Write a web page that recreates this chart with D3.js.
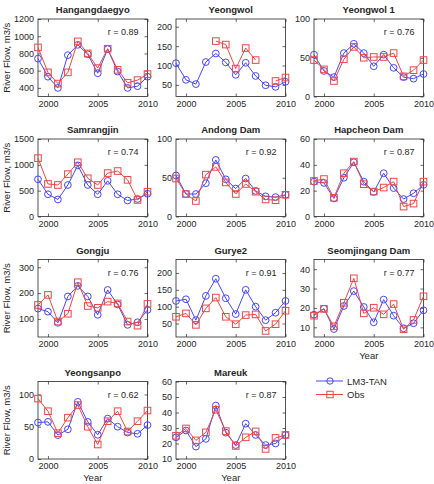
<!DOCTYPE html>
<html lang="en">
<head>
<meta charset="UTF-8">
<title>River flow, LM3-TAN vs Obs</title>
<script src="https://cdn.jsdelivr.net/npm/d3@7"></script>
<style>
  body { margin: 0; background: #fff; }
  svg text { font-family: "Liberation Sans", Arial, sans-serif; fill: #262626; }
</style>
</head>
<body>
<div id="box"></div>
<script>
// years on the x axis
var years = [1999, 2000, 2001, 2002, 2003, 2004, 2005, 2006, 2007, 2008, 2009, 2010];
var xTicks = [2000, 2005, 2010];

// station names (panel titles)
var stations = ["Hangangdaegyo", "Yeongwol", "Yeongwol 1", "Samrangjin", "Andong Dam", "Hapcheon Dam",
                "Gongju", "Gurye2", "Seomjingang Dam", "Yeongsanpo", "Mareuk"];
var rValues = ["0.89", null, "0.76", "0.74", "0.92", "0.87", "0.76", "0.91", "0.77", "0.62", "0.87"];

// LM3-TAN (model) and Obs series, one pair per station
var lmHangangdaegyo = [740, 530, 400, 780, 900, 790, 570, 850, 590, 400, 420, 530];
var obsHangangdaegyo = [870, 580, 450, 580, 940, 800, 630, 855, 610, 460, 490, 560];
var lmYeongwol = [106, 63, 52, 109, 131, 108, 76, 107, 73, 49, 45, 58];
var obsYeongwol = [null, null, null, null, 163, 154, 92, 145, 114, null, 60, 69];
var lmYeongwol1 = [54, 33, 25, 56, 68, 56, 39, 54, 37, 25, 23, 29];
var obsYeongwol1 = [47, 35, 20, 48, 64, 50, 51, 51, 56, 26, 34, 47];
var lmSamrangjin = [720, 430, 330, 610, 990, 610, 430, 690, 430, 310, 340, 440];
var obsSamrangjin = [1130, 630, 610, 820, 1050, 740, 610, 840, 880, 710, 320, 480];
var lmAndong = [53, 29, 29, 43, 73, 48, 36, 49, 33, 26, 25, 28];
var obsAndong = [49, 29, 20, 54, 64, 44, 29, 42, 32, 22, 21, 28];
var lmHapcheon = [27, 26, 14, 30, 42, 27, 19, 33.5, 22, 13.5, 18, 24.5];
var obsHapcheon = [27.5, 29, 14.5, 33.5, 42.5, 25, 19.3, 22.4, 27, 7.7, 10, 27];
var lmGongju = [140, 128, 85, 187, 228, 187, 116, 212, 156, 77, 87, 135];
var obsGongju = [154, 193, 90, 120, 242, 150, 143, 167, 160, 90, 74, 158];
var lmGurye2 = [117, 122, 60, 132, 183, 125, 78, 150, 100, 60, 82, 117];
var obsGurye2 = [70, 80, 46, 95, 127, 70, 48, 75, 77, 28, 48, 88];
var lmSeomjingang = [16.5, 19.6, 9.1, 21, 28.7, 20.5, 12.6, 24.3, 16, 9.5, 12.1, 18.8];
var obsSeomjingang = [16, 19.5, 10.5, 22.7, 35.3, 17.2, 20.1, 16.7, 22, 9, 13.8, 26];
var lmYeongsanpo = [56.5, 57.5, 37, 46, 88.5, 57.5, 37.5, 62.5, 50, 41, 39, 52.5];
var obsYeongsanpo = [93.5, 74, 40, 64, 83.5, 50, 22.5, 58.5, 74, 42.5, 58.5, 75];
var lmMareuk = [24, 28.4, 18, 23, 44.5, 27, 19, 32.8, 25.5, 19, 20, 25.5];
var obsMareuk = [25, 29.7, 22, 27.2, 41.8, 28, 18.4, 24, 27.8, 16.5, 23.6, 25.5];

// y axis limits and tick labels
var yDomains = [[300, 1200], [20, 220], [0, 100], [0, 1500], [0, 100], [0, 60],
                [30, 330], [10, 240], [5, 45], [0, 120], [10, 60]];
var yTicks = [[400, 600, 800, 1000, 1200], [50, 100, 150, 200], [0, 50, 100], [0, 500, 1000, 1500],
              [0, 50, 100], [0, 20, 40, 60], [100, 200, 300], [50, 100, 150, 200],
              [10, 20, 30, 40], [0, 50, 100], [10, 20, 30, 40, 50, 60]];

var lmSeries = [lmHangangdaegyo, lmYeongwol, lmYeongwol1, lmSamrangjin, lmAndong, lmHapcheon,
                lmGongju, lmGurye2, lmSeomjingang, lmYeongsanpo, lmMareuk];
var obsSeries = [obsHangangdaegyo, obsYeongwol, obsYeongwol1, obsSamrangjin, obsAndong, obsHapcheon,
                 obsGongju, obsGurye2, obsSeomjingang, obsYeongsanpo, obsMareuk];

var width = 434, height = 484;
var colLeft = [38, 176, 314];
var rowTop = [19, 139, 259.5, 381.5];
var pw = 109.5, ph = 77.5;
var blue = "#4646ff", red = "#f04646", ink = "#262626";

var svg = d3.select("#box").append("svg")
    .attr("width", width)
    .attr("height", height);

stations.forEach(function(name, i) {
    var col = i % 3, row = Math.floor(i / 3);
    var g = svg.append("g").attr("transform", "translate(" + colLeft[col] + "," + rowTop[row] + ")");

    var x = d3.scaleLinear().domain([1999, 2010]).range([0, pw]);
    var y = d3.scaleLinear().domain(yDomains[i]).range([ph, 0]);

    // axes, ticks inside like matlab
    var xa = g.append("g").attr("transform", "translate(0," + ph + ")")
        .call(d3.axisBottom(x).tickValues(xTicks).tickFormat(d3.format("d"))
            .tickSizeInner(-3).tickSizeOuter(0).tickPadding(4));
    var xt = g.append("g")
        .call(d3.axisTop(x).tickValues(xTicks).tickFormat("").tickSizeInner(-3).tickSizeOuter(0));
    var ya = g.append("g")
        .call(d3.axisLeft(y).tickValues(yTicks[i]).tickFormat(d3.format("d"))
            .tickSizeInner(-3).tickSizeOuter(0).tickPadding(4));
    var yr = g.append("g").attr("transform", "translate(" + pw + ",0)")
        .call(d3.axisRight(y).tickValues(yTicks[i]).tickFormat("").tickSizeInner(-3).tickSizeOuter(0));
    [xa, xt, ya, yr].forEach(function(a) {
        a.select(".domain").remove();
        a.selectAll("line").attr("stroke", ink).attr("stroke-width", 0.7);
        a.selectAll("text").attr("font-size", 9).attr("fill", ink)
            .attr("font-family", "'Liberation Sans', Arial, sans-serif");
    });

    g.append("rect")
        .attr("width", pw).attr("height", ph)
        .attr("fill", "none").attr("stroke", ink).attr("stroke-width", 0.8);

    var line = d3.line()
        .defined(function(d) { return d != null; })
        .x(function(d, j) { return x(years[j]); })
        .y(function(d) { return y(d); });

    // LM3-TAN
    g.append("path").datum(lmSeries[i])
        .attr("d", line).attr("fill", "none").attr("stroke", blue).attr("stroke-width", 1);
    g.selectAll(".lm").data(lmSeries[i]).enter().append("circle")
        .attr("class", "lm")
        .attr("cx", function(d, j) { return x(years[j]); })
        .attr("cy", function(d) { return y(d); })
        .attr("r", 3.4)
        .attr("fill", "none").attr("stroke", blue).attr("stroke-width", 1);

    // Obs
    g.append("path").datum(obsSeries[i])
        .attr("d", line).attr("fill", "none").attr("stroke", red).attr("stroke-width", 1);
    g.selectAll(".obs").data(years.map(function(yr, j) { return { yr: yr, v: obsSeries[i][j] }; })
            .filter(function(d) { return d.v != null; }))
        .enter().append("rect")
        .attr("class", "obs")
        .attr("x", function(d) { return x(d.yr) - 3.3; })
        .attr("y", function(d) { return y(d.v) - 3.3; })
        .attr("width", 6.6).attr("height", 6.6)
        .attr("fill", "none").attr("stroke", red).attr("stroke-width", 1);

    // title
    g.append("text")
        .attr("x", pw / 2).attr("y", -6)
        .attr("text-anchor", "middle")
        .attr("font-size", 9.5).attr("font-weight", "bold")
        .text(name);

    if (rValues[i]) {
        g.append("text")
            .attr("x", pw - 9).attr("y", 16)
            .attr("text-anchor", "end")
            .attr("font-size", 9)
            .text("r = " + rValues[i]);
    }

    if (col == 0) {
        g.append("text")
            .attr("transform", "translate(" + (10 - colLeft[0]) + "," + (ph / 2) + ") rotate(-90)")
            .attr("text-anchor", "middle")
            .attr("font-size", 9.5)
            .text("River Flow, m3/s");
    }
    if (i >= 8) {
        g.append("text")
            .attr("x", pw / 2).attr("y", ph + 22)
            .attr("text-anchor", "middle")
            .attr("font-size", 9.5)
            .text("Year");
    }
});

// legend
var legend = svg.append("g").attr("transform", "translate(316,381)");
var items = [{ label: "LM3-TAN", color: blue, shape: "circle" }, { label: "Obs", color: red, shape: "square" }];
items.forEach(function(it, k) {
    var lg = legend.append("g").attr("transform", "translate(0," + (k * 13.5) + ")");
    lg.append("line").attr("x1", 0).attr("x2", 27).attr("y1", 0).attr("y2", 0)
        .attr("stroke", it.color).attr("stroke-width", 1);
    if (it.shape == "circle") {
        lg.append("circle").attr("cx", 14).attr("cy", 0).attr("r", 3.2)
            .attr("fill", "none").attr("stroke", it.color);
    } else {
        lg.append("rect").attr("x", 14 - 3.2).attr("y", -3.2).attr("width", 6.4).attr("height", 6.4)
            .attr("fill", "none").attr("stroke", it.color);
    }
    lg.append("text").attr("x", 31).attr("y", 3.5)
        .attr("font-size", 9.5)
        .text(it.label);
});
</script>
</body>
</html>
